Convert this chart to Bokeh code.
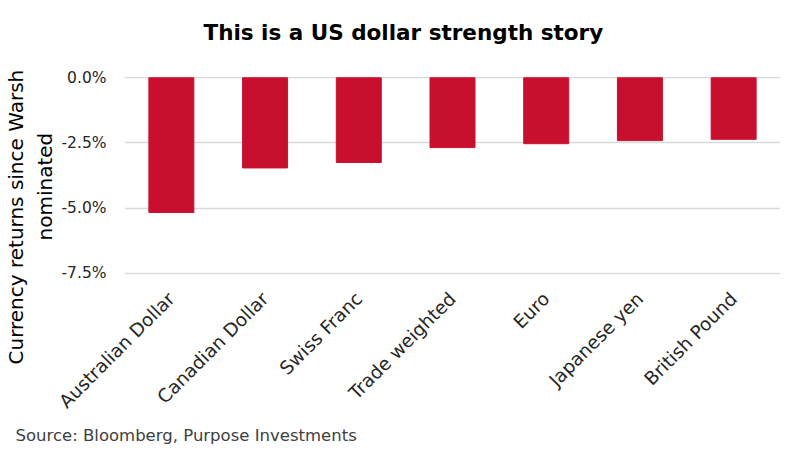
import math
from bokeh.plotting import figure
from bokeh.models import Title, FixedTicker, Range1d, CustomJSTickFormatter
from bokeh.embed import file_html
from bokeh.resources import INLINE

categories = ["Australian Dollar", "Canadian Dollar", "Swiss Franc", "Trade weighted",
              "Euro", "Japanese yen", "British Pound"]
returns_pct = [-5.17, -3.46, -3.25, -2.68, -2.53, -2.41, -2.36]
y_ticks = [0.0, -2.5, -5.0, -7.5]

title_text = "This is a US dollar strength story"
y_label_line1 = "Currency returns since Warsh"
y_label_line2 = "nominated"
source_text = "Source: Bloomberg, Purpose Investments"

FONT = "DejaVu Sans"

p = figure(x_range=categories, width=788, height=445, output_backend="svg",
           toolbar_location=None, min_border_left=124, min_border_right=8,
           min_border_top=76, min_border_bottom=171)
p.y_range = Range1d(-7.55, 0.05)

p.vbar(x=categories, top=[0] * len(categories), bottom=returns_pct, width=0.48,
       fill_color="#C8102E", line_color="#C8102E")

p.outline_line_color = None
p.xgrid.grid_line_color = None
p.ygrid.grid_line_color = "#D9D9D9"
p.ygrid.grid_line_width = 1.5

p.yaxis.ticker = FixedTicker(ticks=y_ticks)
p.yaxis.formatter = CustomJSTickFormatter(code="return tick.toFixed(1) + '%';")
for ax in (p.xaxis, p.yaxis):
    ax.axis_line_color = None
    ax.major_tick_line_color = None
    ax.minor_tick_line_color = None
    ax.major_label_text_font = FONT
    ax.major_label_text_color = "#262626"
p.yaxis.major_label_text_font_size = "15.5px"
p.yaxis.major_label_standoff = 12
p.xaxis.major_label_text_font_size = "18.5px"
p.xaxis.major_label_orientation = math.pi / 4
p.xaxis.major_label_standoff = 15

# spacer between frame and title (keeps the title high above the plot)
p.add_layout(Title(text=" ", standoff=17, text_font=FONT, text_font_size="10px"), "above")
p.add_layout(Title(text=title_text, align="left", offset=79, standoff=0,
                   vertical_align="top",
                   text_font=FONT, text_font_size="21.5px", text_font_style="bold",
                   text_color="#000000"), "above")
p.add_layout(Title(text=y_label_line2, align="left", offset=34, standoff=3,
                   text_font=FONT, text_font_size="20px", text_font_style="normal",
                   text_color="#000000"), "left")
p.add_layout(Title(text=y_label_line1, align="left", offset=-90, standoff=3,
                   text_font=FONT, text_font_size="20px", text_font_style="normal",
                   text_color="#000000"), "left")
p.add_layout(Title(text=source_text, align="left", offset=-109, standoff=2,
                   vertical_align="bottom",
                   text_font=FONT, text_font_size="16.5px", text_font_style="normal",
                   text_color="#404040"), "below")

open("out.html", "w").write(file_html(p, INLINE))
